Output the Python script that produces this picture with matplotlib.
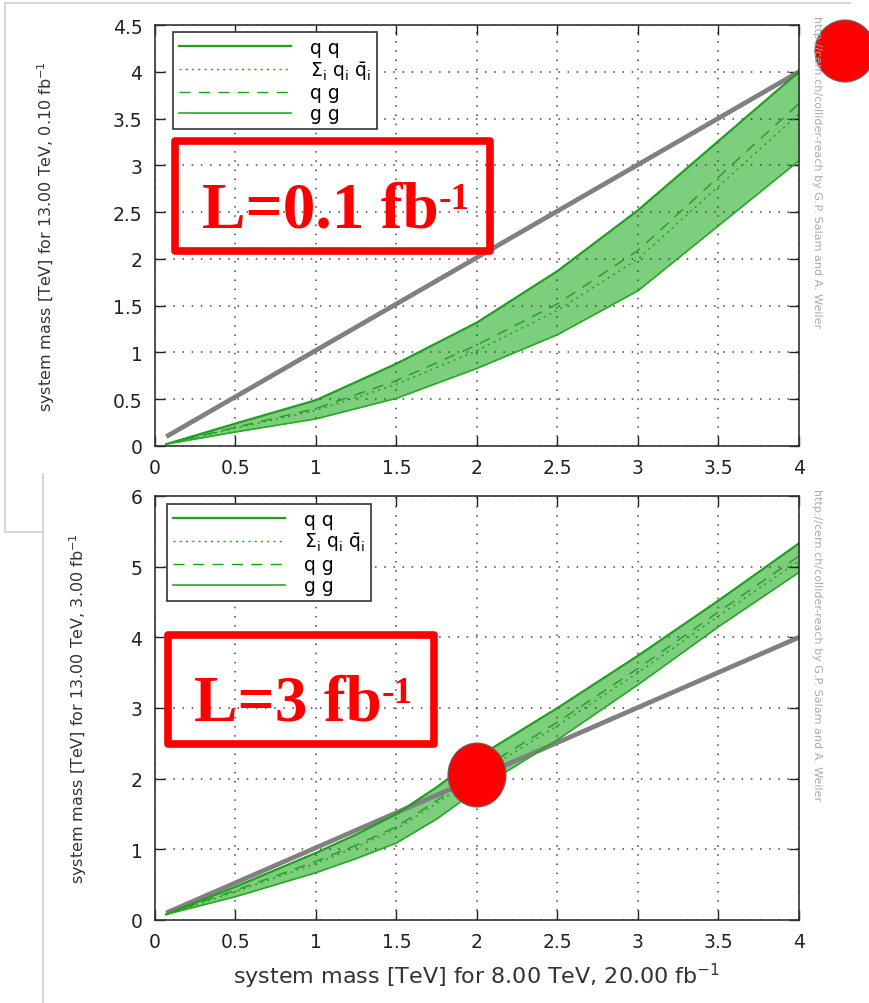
import numpy as np
import matplotlib.pyplot as plt
from matplotlib.lines import Line2D
from matplotlib.patches import Rectangle, Ellipse

# top panel: 13 TeV, 0.10 fb-1
x_top = [0.07, 0.5, 1.0, 1.5, 2.0, 2.5, 3.0, 4.0]
qq_top = [0.02, 0.24, 0.49, 0.88, 1.32, 1.87, 2.52, 4.0]
qqbar_top = [0.02, 0.19, 0.38, 0.66, 1.02, 1.45, 2.0, 3.55]
qg_top = [0.02, 0.20, 0.40, 0.70, 1.08, 1.52, 2.09, 3.66]
gg_top = [0.02, 0.15, 0.29, 0.51, 0.83, 1.19, 1.66, 3.05]

# bottom panel: 13 TeV, 3.00 fb-1
x_bot = [0.07, 0.5, 1.0, 1.25, 1.5, 1.75, 2.0, 2.5, 3.0, 3.5, 4.0]
qq_bot = [0.08, 0.47, 0.95, 1.21, 1.50, 1.88, 2.30, 3.00, 3.74, 4.52, 5.33]
qqbar_bot = [0.08, 0.40, 0.80, 1.03, 1.29, 1.65, 2.05, 2.75, 3.50, 4.30, 5.08]
qg_bot = [0.08, 0.42, 0.83, 1.06, 1.32, 1.69, 2.10, 2.80, 3.56, 4.36, 5.15]
gg_bot = [0.08, 0.33, 0.67, 0.87, 1.09, 1.43, 1.84, 2.55, 3.33, 4.15, 4.92]

diag_x = [0.07, 4.0]
diag_y = [0.1, 4.0]

W, H = 870, 1004
fig = plt.figure(figsize=(W/100, H/100), dpi=100)

green = "#1f9e1f"
fillc = "#5cc45c"

def panel(ax, x, qq, qqbar, qg, gg, ymax, yticks, ylabel, leg_anchor, lpad):
    ax.fill_between(x, gg, qq, color=fillc, alpha=0.8, lw=0)
    ax.plot(diag_x, diag_y, color="#808080", lw=3.4, solid_capstyle="butt")
    ax.plot(x, qq, color=green, lw=1.6, label="q q")
    ax.plot(x, qqbar, color=green, lw=1.0, ls=(0, (1.5, 3)),
            label=r"$\Sigma_{\rm i}$ q$_{\rm i}$ $\bar{\rm q}_{\rm i}$")
    ax.plot(x, qg, color=green, lw=1.0, ls=(0, (8, 6)), label="q g")
    ax.plot(x, gg, color="#2aa82a", lw=1.2, label="g g")
    ax.set_xlim(0, 4)
    ax.set_ylim(0, ymax)
    ax.set_xticks([0, 0.5, 1, 1.5, 2, 2.5, 3, 3.5, 4])
    ax.set_xticklabels(["0", "0.5", "1", "1.5", "2", "2.5", "3", "3.5", "4"])
    ax.set_yticks(yticks)
    ax.set_yticklabels([("%g" % v) for v in yticks])
    ax.tick_params(direction="in", length=7, width=1, top=True, right=True,
                   labelsize=13.5, pad=9, colors="#222222")
    ax.grid(True, color="#444444", ls=(0, (1, 5)), lw=1.1)
    for s in ax.spines.values():
        s.set_linewidth(1.2)
        s.set_color("#333333")
    ax.set_ylabel(ylabel, fontsize=11.5, color="#333333", labelpad=lpad)
    leg = ax.legend(loc="upper left", bbox_to_anchor=leg_anchor, borderaxespad=0,
                    fontsize=13.5, handlelength=6.0, handletextpad=1.0, labelspacing=0.1,
                    borderpad=0.3, frameon=True, fancybox=False, edgecolor="#333333",
                    framealpha=1)
    leg.get_frame().set_linewidth(1.2)
    return ax

ax1 = fig.add_axes([155/W, 1-447/H, 644/W, 421/H])
panel(ax1, x_top, qq_top, qqbar_top, qg_top, gg_top, 4.5,
      [0, 0.5, 1, 1.5, 2, 2.5, 3, 3.5, 4, 4.5],
      "system mass [TeV] for 13.00 TeV, 0.10 fb$^{-1}$", (0.028, 0.983), 40)

ax2 = fig.add_axes([155/W, 1-921/H, 644/W, 424/H])
panel(ax2, x_bot, qq_bot, qqbar_bot, qg_bot, gg_bot, 6,
      [0, 1, 2, 3, 4, 5, 6],
      "system mass [TeV] for 13.00 TeV, 3.00 fb$^{-1}$", (0.019, 0.981), 30)
ax2.set_xlabel("system mass [TeV] for 8.00 TeV, 20.00 fb$^{-1}$",
               fontsize=16, color="#333333", labelpad=7)

# watermark
for yc in [172, 645]:
    fig.text(817/W, 1-yc/H, "http://cern.ch/collider-reach by G.P. Salam and A. Weiler",
             rotation=270, ha="center", va="center", fontsize=8, color="#aaaaaa")

# screenshot frame lines
frame = [((5, 850), (4, 4)), ((5, 5), (4, 533)), ((5, 43), (533, 533)), ((43, 43), (475, 1004))]
for xs, ys in frame:
    fig.add_artist(Line2D([v/W for v in xs], [1-v/H for v in ys], color="#d0d0d0", lw=1.2))

# red annotation boxes
for (x0, y0, x1, y1), txt, tx in [((175, 142, 490, 252), "L=0.1 fb", 202),
                                  ((168, 636, 434, 745), "L=3 fb", 194)]:
    fig.add_artist(Rectangle((x0/W, 1-y1/H), (x1-x0)/W, (y1-y0)/H, fill=False,
                             ec="#ff0000", lw=5.5, joinstyle="round"))
    yb = (y0 + y1)/2 + 30
    t = fig.text(tx/W, 1-yb/H, txt, family="Liberation Serif", weight="bold",
                 fontsize=47, color="#ff0000", ha="left", va="baseline")
    ax2.annotate("-1", xy=(1.0, 0.98), xycoords=t, ha="left", va="top",
                 family="Liberation Serif", weight="bold", fontsize=27, color="#ff0000",
                 annotation_clip=False)

# red dots
for cx, cy, rw, rh in [(845, 52, 60, 62), (477, 776, 58, 64)]:
    fig.add_artist(Ellipse((cx/W, 1-cy/H), rw/W, rh/H, fc="#ff0000", ec="#666666", lw=0.8))

fig.savefig("out.png", dpi=100)
